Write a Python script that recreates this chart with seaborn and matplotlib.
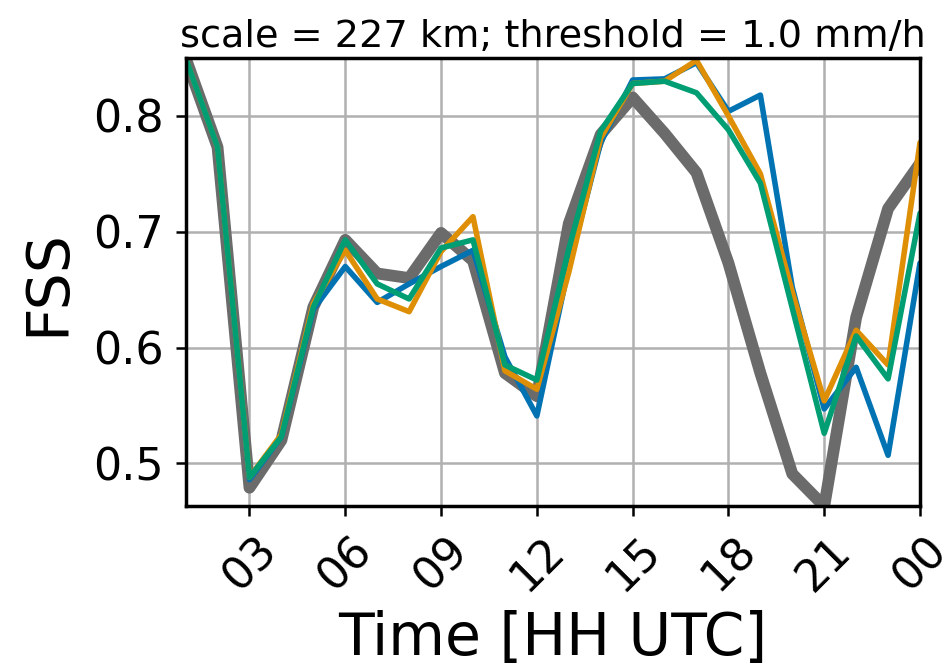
import matplotlib
matplotlib.use("Agg")
import matplotlib.pyplot as plt
import seaborn as sns
import pandas as pd

sns.set_theme(style="whitegrid")
plt.rcParams['font.family'] = ['DejaVu Sans']
plt.rcParams['text.color'] = 'black'
plt.rcParams['axes.labelcolor'] = 'black'

# Forecast hours (1..24, hour 24 shown as 00 UTC)
hours = list(range(1, 25))

# Fractions Skill Score per hour
fss_reference = [0.850, 0.773, 0.479, 0.520, 0.635, 0.693, 0.664, 0.660, 0.699, 0.675,
                 0.578, 0.558, 0.707, 0.784, 0.816, 0.785, 0.751, 0.673, 0.578, 0.491,
                 0.463, 0.626, 0.720, 0.759]
fss_blue = [0.850, 0.773, 0.486, 0.523, 0.633, 0.670, 0.639, 0.655, 0.670, 0.684,
            0.592, 0.541, 0.670, 0.777, 0.831, 0.832, 0.846, 0.804, 0.818, 0.652,
            0.547, 0.583, 0.507, 0.673]
fss_orange = [0.850, 0.773, 0.488, 0.525, 0.638, 0.684, 0.642, 0.631, 0.683, 0.713,
              0.580, 0.564, 0.665, 0.781, 0.828, 0.830, 0.848, 0.800, 0.750, 0.648,
              0.554, 0.615, 0.585, 0.777]
fss_green = [0.850, 0.773, 0.488, 0.523, 0.635, 0.693, 0.655, 0.642, 0.686, 0.693,
             0.585, 0.572, 0.685, 0.787, 0.828, 0.830, 0.820, 0.788, 0.742, 0.634,
             0.526, 0.610, 0.573, 0.716]

tick_hours = [3, 6, 9, 12, 15, 18, 21, 24]
tick_labels = ["03", "06", "09", "12", "15", "18", "21", "00"]

pal = sns.color_palette("colorblind")

df = pd.DataFrame({"hour": hours, "ref": fss_reference, "b": fss_blue,
                   "o": fss_orange, "g": fss_green})

fig = plt.figure(figsize=(9.47, 6.67), dpi=100)
ax = fig.add_axes([0.196, 0.241, 0.7755, 0.672])

sns.lineplot(data=df, x="hour", y="ref", ax=ax, color="#6b6b6b", linewidth=8.5)
sns.lineplot(data=df, x="hour", y="b", ax=ax, color=pal[0], linewidth=4)
sns.lineplot(data=df, x="hour", y="o", ax=ax, color=pal[1], linewidth=4)
sns.lineplot(data=df, x="hour", y="g", ax=ax, color=pal[2], linewidth=4)

all_vals = fss_reference + fss_blue + fss_orange + fss_green
ax.set_xlim(hours[0], hours[-1])
ax.set_ylim(min(all_vals), max(all_vals))
ax.set_xticks(tick_hours)
ax.set_xticklabels(tick_labels, rotation=45)
ax.set_yticks([0.5, 0.6, 0.7, 0.8])
ax.set_yticklabels(["0.5", "0.6", "0.7", "0.8"])

ax.grid(True, color="#b0b0b0", linewidth=1.8)
for s in ax.spines.values():
    s.set_color("black")
    s.set_linewidth(2.5)
ax.tick_params(axis="both", labelsize=32, length=7, width=1.8, colors="black",
               bottom=True, left=True, pad=9)

ax.set_xlabel("Time [HH UTC]", fontsize=42, labelpad=8)
ax.set_ylabel("FSS", fontsize=42, labelpad=12)
ax.set_title("scale = 227 km; threshold = 1.0 mm/h", fontsize=27.5, pad=8)

fig.savefig("out.png", dpi=100, facecolor="white")
